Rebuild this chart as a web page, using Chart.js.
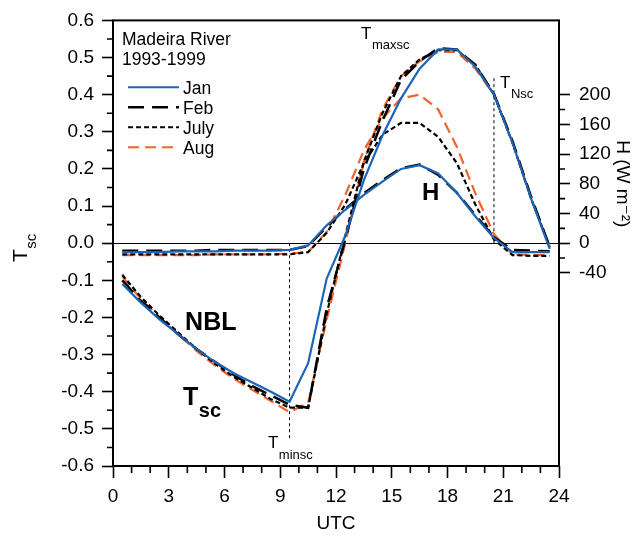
<!DOCTYPE html>
<html>
<head>
<meta charset="utf-8">
<script src="https://cdn.jsdelivr.net/npm/chart.js@4.4.1/dist/chart.umd.min.js"></script>
<style>
html, body { margin: 0; padding: 0; background: #fff; }
#wrap { width: 639px; height: 536px; }
</style>
</head>
<body>
<div id="wrap"><canvas id="chart"></canvas></div>
<script>
const hours = [0.5, 1.5, 2.5, 3.5, 4.5, 5.5, 6.5, 7.5, 8.5, 9.5, 10.5, 11.5,
               12.5, 13.5, 14.5, 15.5, 16.5, 17.5, 18.5, 19.5, 20.5, 21.5, 22.5, 23.5];

// Tsc (left axis)
const tscJan  = [-0.11, -0.16, -0.205, -0.245, -0.285, -0.32, -0.35, -0.375, -0.40, -0.427, -0.323, -0.095,
                 0.02, 0.17, 0.29, 0.39, 0.47, 0.522, 0.522, 0.475, 0.40, 0.27, 0.12, -0.015];
const tscFeb  = [-0.10, -0.155, -0.20, -0.245, -0.285, -0.32, -0.355, -0.385, -0.41, -0.435, -0.443, -0.175,
                 0.01, 0.20, 0.33, 0.44, 0.49, 0.525, 0.522, 0.48, 0.402, 0.275, 0.125, -0.01];
const tscJuly = [-0.085, -0.145, -0.195, -0.24, -0.285, -0.325, -0.36, -0.39, -0.42, -0.443, -0.443, -0.19,
                 0.02, 0.22, 0.35, 0.45, 0.495, 0.52, 0.52, 0.48, 0.40, 0.27, 0.12, -0.01];
const tscAug  = [-0.09, -0.15, -0.20, -0.245, -0.29, -0.33, -0.365, -0.395, -0.425, -0.455, -0.43, -0.205,
                 0.0, 0.22, 0.36, 0.45, 0.49, 0.515, 0.515, 0.47, 0.40, 0.27, 0.12, -0.01];

// H, W m-2 (right axis)
const hJan  = [-12, -12, -12, -11, -11, -11, -10, -10, -10, -9, -3, 24, 45, 65, 83, 100, 105, 94, 68, 36, 7, -12, -12, -12];
const hFeb  = [-10, -10, -10, -10, -10, -9, -9, -9, -9, -9, -4, 22, 46, 67, 85, 101, 106, 92, 68, 38, 8, -9, -10, -11];
const hJuly = [-15, -15, -15, -15, -15, -15, -15, -15, -15, -15, -12, 14, 52, 108, 146, 162, 162, 143, 108, 52, 5, -16, -17, -17];
const hAug  = [-16, -16, -16, -16, -16, -15, -15, -15, -15, -14, -12, 15, 65, 125, 168, 195, 200, 180, 130, 67, 12, -15, -16, -16];

// dotted markers: time, from, to (Tsc units)
const markTimes = [9.5, 20.5];
const markFrom = [0, 0];
const markTo = [-0.53, 0.45];

const tscTicks = [-0.6, -0.5, -0.4, -0.3, -0.2, -0.1, 0, 0.1, 0.2, 0.3, 0.4, 0.5, 0.6];
const tscMinor = [-0.55, -0.45, -0.35, -0.25, -0.15, -0.05, 0.05, 0.15, 0.25, 0.35, 0.45, 0.55];
const hTicks = [-40, 0, 40, 80, 120, 160, 200];
const hMinor = [-20, 20, 60, 100, 140, 180];
const utcMinor = [1, 2, 4, 5, 7, 8, 10, 11, 13, 14, 16, 17, 19, 20, 22, 23];

const BLUE = '#1e64b4';
const ORANGE = '#f0642d';
const FONT = "'Liberation Sans', Arial, 'DejaVu Sans', sans-serif";

Chart.defaults.font.family = FONT;
Chart.defaults.color = '#000';

const pts = arr => arr.map((v, i) => ({ x: hours[i], y: v }));

const styles = {
    Jan:  { borderColor: BLUE, borderWidth: 2.2, borderDash: [] },
    Feb:  { borderColor: '#000', borderWidth: 2.5, borderDash: [16, 8] },
    July: { borderColor: '#000', borderWidth: 2.2, borderDash: [5, 3] },
    Aug:  { borderColor: ORANGE, borderWidth: 2.2, borderDash: [11, 6] }
};

function series(label, data, axis, legend) {
    return Object.assign({
        label: label,
        data: pts(data),
        yAxisID: axis,
        pointRadius: 0,
        tension: 0,
        fill: false,
        showInLegend: legend
    }, styles[label]);
}

const datasets = [
    series('Jan', tscJan, 'y', true),
    series('Feb', tscFeb, 'y', true),
    series('July', tscJuly, 'y', true),
    series('Aug', tscAug, 'y', true),
    series('Jan', hJan, 'y1', false),
    series('Feb', hFeb, 'y1', false),
    series('July', hJuly, 'y1', false),
    series('Aug', hAug, 'y1', false)
];
markTimes.forEach((t, i) => {
    datasets.push({
        label: 'mark',
        data: [{ x: t, y: markFrom[i] }, { x: t, y: markTo[i] }],
        yAxisID: 'y',
        borderColor: '#000',
        borderWidth: 1,
        borderDash: [3, 3],
        pointRadius: 0,
        showInLegend: false,
        clip: false
    });
});

// text placed in data coordinates (hours, Tsc)
const labels = [
    { text: 'Madeira River', x: 0.48, y: 0.533, font: '17.5px ' + FONT },
    { text: '1993-1999', x: 0.48, y: 0.479, font: '17.5px ' + FONT },
    { text: 'NBL', x: 3.88, y: -0.234, font: 'bold 25px ' + FONT },
    { text: 'H', x: 16.63, y: 0.116, font: 'bold 24px ' + FONT },
    { text: 'T', sub: 'sc', x: 3.77, y: -0.436, font: 'bold 25px ' + FONT, subFont: 'bold 20px ' + FONT, dy: 12 },
    { text: 'T', sub: 'maxsc', x: 13.35, y: 0.549, font: '17px ' + FONT, subFont: '13px ' + FONT, dy: 10 },
    { text: 'T', sub: 'Nsc', x: 20.83, y: 0.417, font: '17px ' + FONT, subFont: '13px ' + FONT, dy: 10 },
    { text: 'T', sub: 'minsc', x: 8.34, y: -0.552, font: '17px ' + FONT, subFont: '13px ' + FONT, dy: 11 }
];
const legendAt = { x1: 0.81, x2: 3.55, y: 0.42, row: 20 };

function minorTicks(ctx, scale, values, len, side) {
    ctx.beginPath();
    values.forEach(v => {
        const p = scale.getPixelForValue(v);
        if (side === 'bottom') { ctx.moveTo(p, scale.top); ctx.lineTo(p, scale.top + len); }
        if (side === 'left') { ctx.moveTo(scale.right, p); ctx.lineTo(scale.right - len, p); }
        if (side === 'right') { ctx.moveTo(scale.left, p); ctx.lineTo(scale.left + len, p); }
    });
    ctx.stroke();
}

const decorations = {
    id: 'decorations',
    afterDraw(chart) {
        const ctx = chart.ctx;
        const { x, y, y1 } = chart.scales;
        const area = chart.chartArea;
        ctx.save();
        ctx.strokeStyle = '#000';
        ctx.lineWidth = 1.6;
        minorTicks(ctx, x, utcMinor, 7, 'bottom');
        minorTicks(ctx, y, tscMinor, 6, 'left');
        minorTicks(ctx, y1, hMinor, 6, 'right');

        // frame
        ctx.lineWidth = 2;
        ctx.strokeRect(area.left, area.top, area.right - area.left, area.bottom - area.top);

        ctx.fillStyle = '#000';
        ctx.textBaseline = 'alphabetic';
        ctx.textAlign = 'left';
        labels.forEach(l => {
            const px = x.getPixelForValue(l.x);
            const py = y.getPixelForValue(l.y);
            ctx.font = l.font;
            ctx.fillText(l.text, px, py);
            if (l.sub) {
                const w = ctx.measureText(l.text).width;
                ctx.font = l.subFont;
                ctx.fillText(l.sub, px + w + 0.5, py + l.dy);
            }
        });

        // legend
        const lx1 = x.getPixelForValue(legendAt.x1);
        const lx2 = x.getPixelForValue(legendAt.x2);
        let ly = y.getPixelForValue(legendAt.y);
        chart.data.datasets.filter(d => d.showInLegend).forEach(d => {
            ctx.beginPath();
            ctx.strokeStyle = d.borderColor;
            ctx.lineWidth = d.borderWidth;
            ctx.setLineDash(d.borderDash);
            ctx.moveTo(lx1, ly);
            ctx.lineTo(lx2, ly);
            ctx.stroke();
            ctx.setLineDash([]);
            ctx.font = '17.5px ' + FONT;
            ctx.fillText(d.label, lx2 + 4, ly + 6.5);
            ly += legendAt.row;
        });

        // axis titles
        ctx.save();
        ctx.translate(27, 262);
        ctx.rotate(-Math.PI / 2);
        ctx.font = '21px ' + FONT;
        ctx.fillText('T', 0, 0);
        const tw = ctx.measureText('T').width;
        ctx.font = '15px ' + FONT;
        ctx.fillText('sc', tw + 0.5, 9);
        ctx.restore();

        ctx.save();
        ctx.translate(617, (y1.getPixelForValue(hTicks[0]) + y1.getPixelForValue(hTicks[hTicks.length - 1])) / 2);
        ctx.rotate(Math.PI / 2);
        ctx.textAlign = 'center';
        ctx.font = '19px ' + FONT;
        ctx.fillText('H (W m\u207B\u00B2)', 0, 0);
        ctx.restore();

        ctx.restore();
    }
};

const tickGrid = {
    drawOnChartArea: false,
    tickColor: '#000',
    tickWidth: 1.6
};

new Chart(document.getElementById('chart').getContext('2d'), {
    type: 'line',
    data: { datasets: datasets },
    options: {
        responsive: true,
        maintainAspectRatio: false,
        animation: false,
        layout: { padding: { top: 20, left: 0, right: 0, bottom: 0 } },
        plugins: {
            legend: { display: false },
            tooltip: { enabled: false }
        },
        scales: {
            x: {
                type: 'linear',
                min: 0,
                max: 24,
                ticks: { stepSize: 3, padding: 7, font: { size: 19 }, maxRotation: 0 },
                grid: Object.assign({ tickLength: 12 }, tickGrid),
                border: { display: false },
                title: { display: true, text: 'UTC', font: { size: 19 }, padding: { top: 0, bottom: 1 } },
                afterFit: s => { s.height = 70; }
            },
            y: {
                position: 'left',
                min: -0.6,
                max: 0.6,
                afterBuildTicks: s => { s.ticks = tscTicks.map(v => ({ value: v })); },
                ticks: { padding: 8, font: { size: 19 }, callback: v => Number(v).toFixed(1) },
                grid: {
                    drawOnChartArea: true,
                    color: c => (c.tick && Math.abs(c.tick.value) < 1e-9) ? '#000' : 'rgba(0,0,0,0)',
                    lineWidth: 1,
                    tickColor: '#000',
                    tickWidth: 1.6,
                    tickLength: 11
                },
                border: { display: false },
                afterFit: s => { s.width = 113; }
            },
            y1: {
                position: 'right',
                min: -300,
                max: 300,
                afterBuildTicks: s => { s.ticks = hTicks.map(v => ({ value: v })); },
                ticks: { padding: 9, font: { size: 19 } },
                grid: Object.assign({ tickLength: 11 }, tickGrid),
                border: { display: false },
                afterFit: s => { s.width = 80; }
            }
        }
    },
    plugins: [decorations]
});
</script>
</body>
</html>
